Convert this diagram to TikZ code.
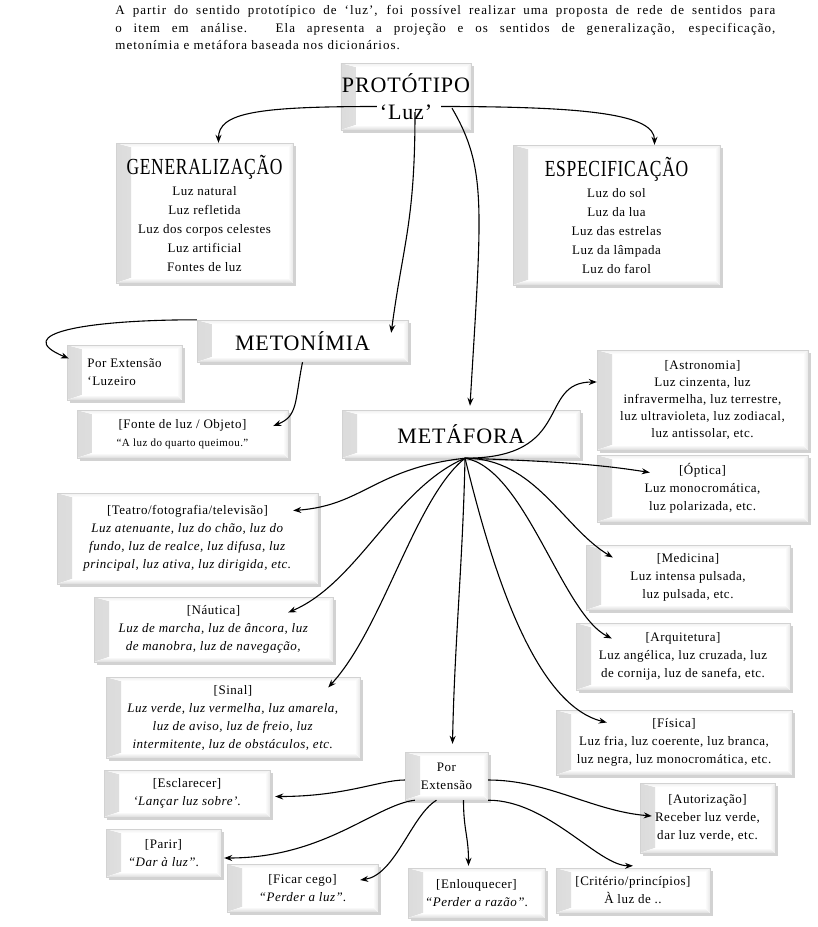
\documentclass[tikz,border=0pt]{standalone}
\usepackage{fontspec}
\setmainfont{Liberation Serif}[LetterSpace=4]
\usepackage{graphicx}
\usepackage{tikz}
\usetikzlibrary{arrows.meta,shadows,calc}
\tikzset{every picture/.style={line width=0.75pt}}
\tikzset{
  caixa/.style={draw={rgb, 255:red, 210; green, 210; blue, 210}, line width=0.4pt, fill=white, align=center, inner sep=1pt,
    drop shadow={shadow xshift=2.5pt, shadow yshift=-2.5pt, fill=gray!70, opacity=0.5},
    path picture={
      \fill[left color=gray!28, right color=white] (path picture bounding box.south west) -- ([xshift=15pt,yshift=5pt]path picture bounding box.south west) -- ([xshift=15pt,yshift=-4pt]path picture bounding box.north west) -- (path picture bounding box.north west) -- cycle;
      \fill[top color=white, bottom color=gray!28] ([xshift=15pt,yshift=5pt]path picture bounding box.south west) -- ([xshift=-5pt,yshift=5pt]path picture bounding box.south east) -- (path picture bounding box.south east) -- (path picture bounding box.south west) -- cycle;
      \fill[left color=white, right color=gray!18] ([xshift=-5pt,yshift=5pt]path picture bounding box.south east) -- ([xshift=-5pt,yshift=-4pt]path picture bounding box.north east) -- (path picture bounding box.north east) -- (path picture bounding box.south east) -- cycle;
      \fill[bottom color=white, top color=gray!12] ([xshift=15pt,yshift=-4pt]path picture bounding box.north west) -- ([xshift=-5pt,yshift=-4pt]path picture bounding box.north east) -- (path picture bounding box.north east) -- (path picture bounding box.north west) -- cycle;
    }},
  seta/.style={-{Stealth[length=8pt, width=6pt]}, line width=1.1pt},
  corpo/.style={font=\fontsize{13}{18}\selectfont},
}
\newcommand{\titulo}[1]{\scalebox{0.76}[1]{\fontsize{23}{25}\selectfont #1}}

\begin{document}
\begin{tikzpicture}[x=1pt,y=1pt,yscale=-1,xscale=1]
\useasboundingbox (0,0) rectangle (818,927);

%Text paragraph
\node [anchor=north west, text width=660pt, align=justify, inner sep=0pt, font=\fontsize{13}{17.5}\selectfont\addfontfeature{LetterSpace=8}] (intro) at (115,5) {A partir do sentido prototípico de ‘luz’, foi possível realizar uma proposta de rede de sentidos para\linebreak o item em análise. Ela apresenta a projeção e os sentidos de generalização, especificação,\linebreak metonímia e metáfora baseada nos dicionários.};

%Shape: Rectangle (top)
\node [caixa, minimum width=114pt, minimum height=67pt, font=\fontsize{22}{27}\selectfont] (proto) at (406,96.5) {PROTÓTIPO\\‘Luz’};
\node [caixa, corpo, minimum width=177pt, minimum height=140pt, font=\fontsize{13}{19}\selectfont] (gen) at (204.5,213) {\titulo{GENERALIZAÇÃO}\\[2pt]Luz natural\\Luz refletida\\Luz dos corpos celestes\\Luz artificial\\Fontes de luz};
\node [caixa, corpo, minimum width=207pt, minimum height=140pt, font=\fontsize{13}{19}\selectfont] (esp) at (616.5,215) {\titulo{ESPECIFICAÇÃO}\\[2pt]Luz do sol\\Luz da lua\\Luz das estrelas\\Luz da lâmpada\\Luz do farol};

%Shape: Rectangle (metonimia)
\node [caixa, minimum width=211pt, minimum height=42pt, font=\fontsize{22}{24}\selectfont] (meton) at (302.5,341) {METONÍMIA};
\node [caixa, corpo, minimum width=115pt, minimum height=55pt, align=left] (luzeiro) at (124.5,372.5) {Por Extensão\\‘Luzeiro\hspace*{24pt}};
\node [caixa, corpo, minimum width=211pt, minimum height=48pt] (fonte) at (182.5,434) {[Fonte de luz / Objeto]\\{\fontsize{11}{14}\selectfont “A luz do quarto queimou.”}};

%Shape: Rectangle (metafora)
\node [caixa, minimum width=238pt, minimum height=48pt, font=\fontsize{22}{24}\selectfont] (metaf) at (461,434) {METÁFORA};
\node [caixa, corpo, minimum width=211pt, minimum height=100pt, font=\fontsize{13}{17}\selectfont] (astro) at (702.5,400) {[Astronomia]\\Luz cinzenta, luz\\infravermelha, luz terrestre,\\luz ultravioleta, luz zodiacal,\\luz antissolar, etc.};
\node [caixa, corpo, minimum width=211pt, minimum height=67pt] (optica) at (702.5,488.5) {[Óptica]\\Luz monocromática,\\luz polarizada, etc.};
\node [caixa, corpo, minimum width=261pt, minimum height=91pt] (teatro) at (187.5,538.5) {[Teatro/fotografia/televisão]\\\textit{Luz atenuante, luz do chão, luz do}\\\textit{fundo, luz de realce, luz difusa, luz}\\\textit{principal, luz ativa, luz dirigida, etc.}};
\node [caixa, corpo, minimum width=239pt, minimum height=65pt] (nautica) at (213.5,629.5) {[Náutica]\\\textit{Luz de marcha, luz de âncora, luz}\\\textit{de manobra, luz de navegação,}};
\node [caixa, corpo, minimum width=204pt, minimum height=65pt] (medic) at (688,577.5) {[Medicina]\\Luz intensa pulsada,\\luz pulsada, etc.};
\node [caixa, corpo, minimum width=214pt, minimum height=67pt] (arquit) at (683,656.5) {[Arquitetura]\\Luz angélica, luz cruzada, luz\\de cornija, luz de sanefa, etc.};
\node [caixa, corpo, minimum width=254pt, minimum height=81pt] (sinal) at (233,717.5) {[Sinal]\\\textit{Luz verde, luz vermelha, luz amarela,}\\\textit{luz de aviso, luz de freio, luz}\\\textit{intermitente, luz de obstáculos, etc.}};
\node [caixa, corpo, minimum width=236pt, minimum height=65pt] (fisica) at (674,742.5) {[Física]\\Luz fria, luz coerente, luz branca,\\luz negra, luz monocromática, etc.};

%Shape: Rectangle (por extensao)
\node [caixa, corpo, minimum width=83pt, minimum height=48pt] (porext) at (446.5,776) {Por\\Extensão};
\node [caixa, corpo, minimum width=166pt, minimum height=47pt] (esclar) at (187,793.5) {[Esclarecer]\\\textit{‘Lançar luz sobre’}.};
\node [caixa, corpo, minimum width=135pt, minimum height=70pt] (autoriz) at (707.5,818) {[Autorização]\\Receber luz verde,\\dar luz verde, etc.};
\node [caixa, corpo, minimum width=115pt, minimum height=48pt] (parir) at (163.5,853) {[Parir]\\\textit{“Dar à luz”}.};
\node [caixa, corpo, minimum width=151pt, minimum height=48pt] (ficar) at (302.5,888) {[Ficar cego]\\\textit{“Perder a luz”}.};
\node [caixa, corpo, minimum width=137pt, minimum height=50pt] (enlouq) at (476.5,893) {[Enlouquecer]\\\textit{“Perder a razão”}.};
\node [caixa, corpo, minimum width=154pt, minimum height=45pt] (criter) at (633,890.5) {[Critério/princípios]\\À luz de ..};

\coordinate (hub) at ($(metaf.south)+(4,0)$);

%Curve Lines (prototipo)
\draw [seta] ($(proto.west)+(36,10)$) .. controls +(-120,0) and +(0,-30) .. ($(gen.north)+(14,0)$);
\draw [seta] ($(proto.east)+(-30,10)$) .. controls +(150,0) and +(0,-30) .. ($(esp.north)+(38,0)$);
\draw [seta] ($(proto.south)+(9,-18)$) .. controls +(0,110) and +(12,-90) .. ($(meton.north east)+(-17,13)$);
\draw [seta] ($(proto.south)+(46,-22)$) .. controls +(35,60) and +(12,-200) .. ($(metaf.north)+(9,-4)$);

%Curve Lines (metonimia)
\draw [seta] (meton.north west) .. controls +(-110,0) and +(-60,-25) .. ($(luzeiro.west)+(2,-14)$);
\draw [seta] (meton.south) .. controls +(-8,40) and +(25,-10) .. ($(fonte.east)+(-15,-8)$);

%Curve Lines (metafora)
\draw [seta] (hub) .. controls +(110,0) and +(-60,0) .. ($(astro.west)+(0,-18)$);
\draw [seta] (hub) .. controls +(90,3) and +(-50,-8) .. ($(optica.west)+(53,-16)$);
\draw [seta] (hub) .. controls +(-90,10) and +(70,-5) .. ($(teatro.east)+(-25,-28)$);
\draw [seta] (hub) .. controls +(-70,30) and +(70,-30) .. ($(nautica.east)+(-45,-17)$);
\draw [seta] (hub) .. controls +(-50,40) and +(55,-60) .. ($(sinal.east)+(-32,-30)$);
\draw [seta] (hub) .. controls +(-2,100) and +(2,-100) .. ($(porext.north)+(6,-8)$);
\draw [seta] (hub) .. controls +(70,0) and +(-50,-30) .. ($(medic.west)+(27,-20)$);
\draw [seta] (hub) .. controls +(60,10) and +(-50,-25) .. ($(arquit.west)+(36,-18)$);
\draw [seta] (hub) .. controls +(20,80) and +(-80,-20) .. ($(fisica.west)+(51,-20)$);

%Curve Lines (por extensao)
\draw [seta] ($(porext.west)+(0,4)$) .. controls +(-25,0) and +(70,0) .. ($(esclar.east)+(5,3)$);
\draw [seta] ($(porext.south west)+(10,0)$) .. controls +(-40,5) and +(100,0) .. ($(parir.east)+(3,5)$);
\draw [seta] ($(porext.south)+(-10,0)$) .. controls +(-25,15) and +(35,-5) .. ($(ficar.east)+(-18,-8)$);
\draw [seta] ($(porext.south)+(17,0)$) .. controls +(0,30) and +(0,-30) .. ($(enlouq.north)+(-8,-2)$);
\draw [seta] (porext.south east) .. controls +(60,0) and +(-35,0) .. ($(criter.north)+(0,-2)$);
\draw [seta] ($(porext.east)+(0,4)$) .. controls +(60,0) and +(-60,-5) .. ($(autoriz.west)+(12,-2)$);
\end{tikzpicture}
\end{document}
